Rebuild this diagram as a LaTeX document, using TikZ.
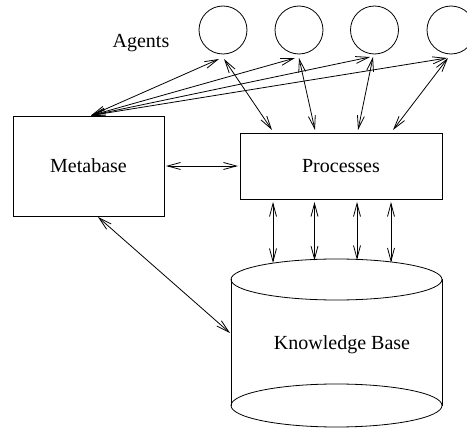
\documentclass[tikz,border=0pt]{standalone}
\usepackage{fontspec}
\setmainfont{Liberation Serif}
\usetikzlibrary{arrows.meta}
\begin{document}
\begin{tikzpicture}[x=1pt,y=-1pt,line width=0.8pt,
  lbl/.style={font=\fontsize{20}{24}\selectfont, inner sep=0pt},
  agent/.style={draw, circle, minimum size=48pt, inner sep=0pt},
  boxnode/.style={draw, rectangle, inner sep=0pt, font=\fontsize{20}{24}\selectfont},
  link/.style={{Straight Barb[length=13pt,width=7pt]}-{Straight Barb[length=13pt,width=7pt]}}]
\useasboundingbox (0,0) rectangle (467,428);
\clip (0,0) rectangle (467,428);
% agents
\node[agent] (a1) at (223,30) {};
\node[agent] (a2) at (299,30) {};
\node[agent] (a3) at (374.5,30) {};
\node[agent] (a4) at (451,30) {};
\node[lbl] (agents) at (141,43) {Agents};
% boxes
\node[boxnode, minimum width=151pt, minimum height=100pt] (meta) at (88.5,166) {Metabase};
\node[boxnode, minimum width=202pt, minimum height=66pt] (proc) at (341,166) {Processes};
% cylinder
\draw (336.5,279.5) ellipse [x radius=105.5, y radius=20.5];
\draw (336.5,405.5) ellipse [x radius=105.5, y radius=21.5];
\draw (231,279.5) -- (231,405.5);
\draw (442,279.5) -- (442,405.5);
\node[lbl] (kb) at (342,345) {Knowledge Base};
% endpoints
\coordinate (m0) at (91,115.5);
\coordinate (e1) at (219,59);
\coordinate (e2) at (295,58);
\coordinate (e3) at (370,57);
\coordinate (e4) at (447,58);
\coordinate (s1) at (224,59);
\coordinate (s2) at (299,58);
\coordinate (s3) at (373,57);
\coordinate (s4) at (448,58);
\coordinate (p1) at (272,130);
\coordinate (p2) at (315,130);
\coordinate (p3) at (358,130);
\coordinate (p4) at (393,130);
\coordinate (q1) at (273,202);
\coordinate (q2) at (314.5,202);
\coordinate (q3) at (357,202);
\coordinate (q4) at (391,202);
\coordinate (k1) at (273,263);
\coordinate (k2) at (314.5,260.5);
\coordinate (k3) at (357,260);
\coordinate (k4) at (391,262.5);
\coordinate (mr) at (166,166);
\coordinate (pl) at (238,166);
\coordinate (mb) at (98,217);
\coordinate (kl) at (230,333);
% connectors
\foreach \i in {1,2,3,4} {
  \draw[link] (m0) -- (e\i);
  \draw[link] (s\i) -- (p\i);
  \draw[link] (q\i) -- (k\i);
}
\draw[link] (mr) -- (pl);
\draw[link] (mb) -- (kl);
\end{tikzpicture}
\end{document}
